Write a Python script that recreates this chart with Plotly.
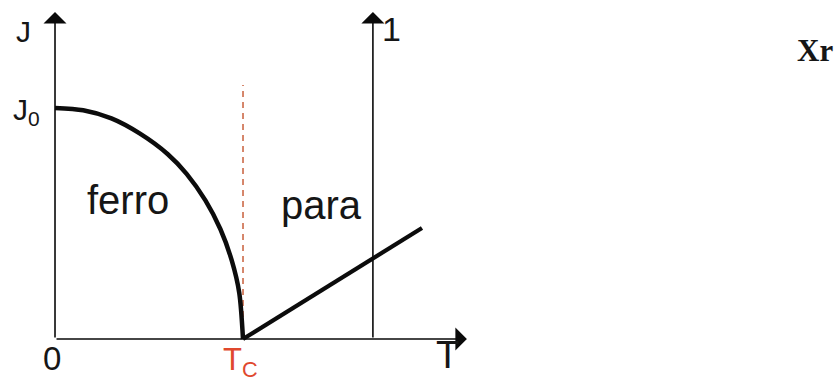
import plotly.graph_objects as go

# Phase diagram of the exchange coupling J against temperature T
tc = 1.0                      # Curie temperature
j0 = 1.0                      # coupling at T = 0

# ferromagnetic boundary J(T), sampled from T = 0 up to Tc
ferro_t = [0.0, 0.15, 0.30, 0.45, 0.60, 0.70, 0.80, 0.88, 0.94, 0.98, 1.0]
ferro_j = [1.0, 0.99, 0.955, 0.89, 0.80, 0.715, 0.60, 0.475, 0.34, 0.20, 0.0]

# paramagnetic line (1/chi) rising from Tc
para_t = [1.0, 1.952]
para_j = [0.0, 0.4805]

# axis extents
t_max = 2.191                 # tip of the T axis
j_max = 1.4156                # tip of the J axis and of the second axis
t_second_axis = 1.691         # position of the second vertical axis
dash_top = 1.0996             # top of the dashed line at Tc

ink = "#161616"
red = "#e0482e"

fig = go.Figure()

# dashed marker at Tc
fig.add_trace(go.Scatter(
    x=[tc, tc], y=[0, dash_top], mode="lines",
    line=dict(color="#c4542e", width=1.4, dash="6px,5px"),
    hoverinfo="skip", showlegend=False))

# ferromagnetic boundary
fig.add_trace(go.Scatter(
    x=ferro_t, y=ferro_j, mode="lines",
    line=dict(color="#0c0c0c", width=4.5, shape="spline", smoothing=0.8),
    hoverinfo="skip", showlegend=False))

# paramagnetic line
fig.add_trace(go.Scatter(
    x=para_t, y=para_j, mode="lines",
    line=dict(color="#0c0c0c", width=4.2),
    hoverinfo="skip", showlegend=False))

annotations = []

def arrow(x0, y0, x1, y1):
    annotations.append(dict(
        x=x1, y=y1, ax=x0, ay=y0, xref="x", yref="y", axref="x", ayref="y",
        text="", showarrow=True, arrowhead=1, arrowsize=2.4, arrowwidth=1.6,
        arrowcolor="#0a0a0a", standoff=0))

arrow(0, 0, 0, j_max)                         # J axis
arrow(0, 0, t_max, 0)                         # T axis
arrow(t_second_axis, 0, t_second_axis, j_max)  # second vertical axis

def label(x, y, text, size, color=ink, family="Liberation Sans, Arial, sans-serif"):
    annotations.append(dict(
        x=x, y=y, xref="x", yref="y", text=text, showarrow=False,
        xanchor="center", yanchor="middle",
        font=dict(family=family, size=size, color=color)))

label(-0.17, 1.33, "J", 30)
label(-0.15, 0.985, "J<sub>0</sub>", 30)
label(0.39, 0.60, "ferro", 40)
label(1.415, 0.58, "para", 40)
label(-0.016, -0.085, "0", 33)
label(0.985, -0.10, "T<sub>C</sub>", 31, color=red)
label(2.09, -0.07, "T", 38)
label(1.79, 1.34, "1", 34)
label(4.04, 1.25, "<b>Xr</b>", 31, family="Liberation Serif, Times New Roman, serif")

fig.update_layout(
    width=839, height=377,
    margin=dict(l=0, r=0, t=0, b=0),
    paper_bgcolor="white", plot_bgcolor="white",
    xaxis=dict(range=[-0.2926, 4.1702], visible=False, fixedrange=True),
    yaxis=dict(range=[-0.1645, 1.4675], visible=False, fixedrange=True),
    annotations=annotations,
    showlegend=False,
)

fig.write_html("out.html")
